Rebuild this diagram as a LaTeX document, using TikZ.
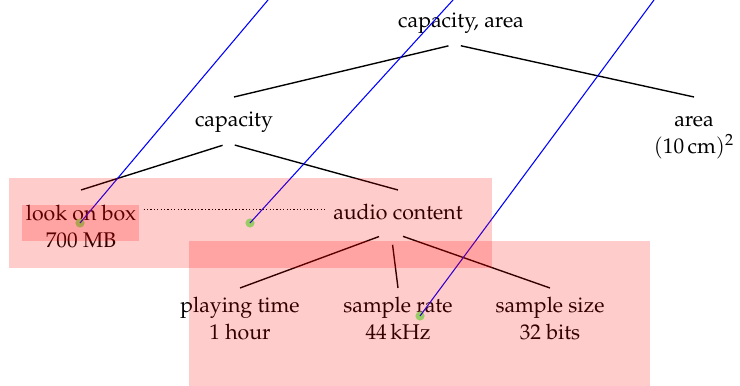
\documentclass[tikz,border=0pt]{standalone}
\usepackage[T1]{fontenc}
\usepackage{mathpazo}
\usepackage{tikz}
\usetikzlibrary{positioning,calc}
\tikzset{
  word/.style={
    font=\fontsize{10}{12.7}\selectfont,
    align=center,
    inner xsep=3.3pt,
    inner ysep=4pt,
    execute at begin node=\rule[-3.8pt]{0pt}{13.4pt}
  },
  leaf/.style={
    word,
    execute at begin node=\rule[-3.8pt]{0pt}{11.1pt}
  },
  branch/.style={line width=0.65pt, shorten <=3pt},
  spot/.style={circle, fill=green!50, inner sep=0pt, minimum size=4.3pt},
  pointer/.style={blue, line width=0.5pt},
  hilite/.style={fill=red, fill opacity=0.2}
}

\begin{document}
\begin{tikzpicture}[x=0.47pt, y=-0.47pt]
\useasboundingbox (0,0) rectangle (740,386);

% the tree
\node[word, anchor=north] (root) at (461,-2) {capacity, area};
\node[word, anchor=north] (cap) at (234,97) {capacity};
\node[word, anchor=north, inner ysep=8.6pt] (area) at (694,97) {area\\$(10\,\mathrm{cm})^2$};
\node[word, anchor=north, inner ysep=6.9pt] (box) at (81,190) {look on box\\700 MB};
\node[word, anchor=north] (audio) at (398,190) {audio content};
\node[leaf, anchor=north] (time) at (240,288) {playing time\\1 hour};
\node[leaf, anchor=north] (rate) at (398,288) {sample rate\\44\,kHz};
\node[leaf, anchor=north] (size) at (550,288) {sample size\\32 bits};

\draw[branch] ([xshift=-3pt]root.south) -- (cap.north);
\draw[branch] ([xshift=-3pt]root.south) -- (area.north);
\draw[branch] ([xshift=-2.5pt]cap.south) -- (box.north);
\draw[branch] ([xshift=-2.5pt]cap.south) -- (audio.north);
\draw[branch, shorten <=6pt] ([xshift=-3.3pt,yshift=2pt]audio.south) -- (time.north);
\draw[branch, shorten <=6pt] ([xshift=-3.3pt,yshift=2pt]audio.south) -- (rate.north);
\draw[branch, shorten <=6pt] ([xshift=-3.3pt,yshift=2pt]audio.south) -- (size.north);

% other source for the same value
\draw[densely dotted, line width=0.6pt] ($(box.east |- audio.west)+(0,-4)$) -- ($(audio.west)+(0,-4)$);

% marks leading off to the notes
\node[spot] (m1) at (80,223) {};
\node[spot] (m2) at (250,223) {};
\node[spot] (m3) at (420,316) {};
\coordinate (n1) at (268,0);
\coordinate (n2) at (453,0);
\coordinate (n3) at (654,0);
\draw[pointer] (m1.center) -- (n1);
\draw[pointer] (m2.center) -- (n2);
\draw[pointer] (m3.center) -- (n3);

% highlighted regions
\fill[hilite] (9,178) rectangle (492,268);
\fill[hilite] (189,241) rectangle (650,386);
\fill[hilite] (22,205) rectangle (139,241);
\end{tikzpicture}
\end{document}
